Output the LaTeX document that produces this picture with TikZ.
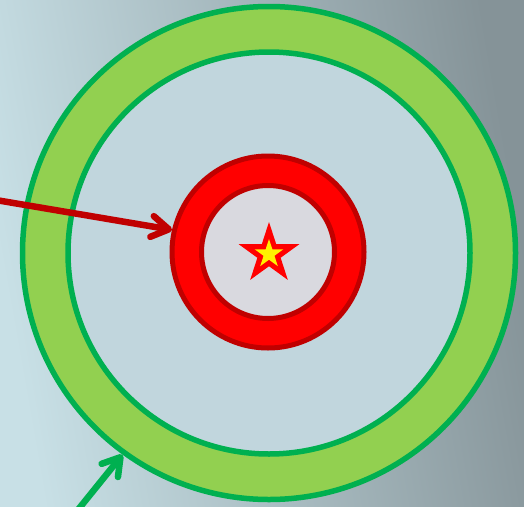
\documentclass[tikz,border=0pt]{standalone}
\usetikzlibrary{arrows.meta,shapes.geometric}
\definecolor{bgleft}{HTML}{C8E0E6}
\definecolor{bgright}{HTML}{859398}
\definecolor{ringgreen}{HTML}{92D050}
\definecolor{linegreen}{HTML}{00B050}
\definecolor{coreblue}{HTML}{C1D6DD}
\definecolor{darkred}{HTML}{C00000}
\definecolor{coregray}{HTML}{D9D9DF}
\begin{document}
\begin{tikzpicture}[
    x=1pt, y=-1pt,
    inner sep=0pt, outer sep=0pt,
    disc/.style={circle, minimum size=#1},
    greenline/.style={draw=linegreen, line width=5.5pt},
    redline/.style={draw=darkred, line width=5pt},
    starshape/.style={star, star points=5, star point ratio=2.618, minimum size=#1},
    pointer/.style={line width=6.5pt, line cap=round,
      -{Straight Barb[length=17pt, width=21pt, round]}}
  ]
  \shade[left color=bgleft, right color=bgright, shading angle=100]
    (0,0) rectangle (524,506);
  \useasboundingbox (0,0) rectangle (524,506);
  \clip (0,0) rectangle (524,506);
  \node (outer) [disc=493pt, greenline, fill=ringgreen, outer sep=2.75pt] at (269,253) {};
  \node (inner) [disc=402pt, greenline, fill=coreblue] at (269,253) {};
  \node (ring) [disc=192pt, redline, fill=red, outer sep=2.5pt] at (268,252) {};
  \node (core) [disc=133pt, redline, fill=coregray] at (268,252) {};
  \node (star) [starshape=64pt, fill=red] at (269,254) {};
  \node (spot) [starshape=30pt, fill=yellow] at (269,254) {};
  \coordinate (redtail) at (-6,199.7);
  \coordinate (greentail) at (77,511);
  \draw[pointer, darkred] (redtail) -- (ring.167);
  \draw[pointer, linegreen] (greentail) -- (outer.234);
\end{tikzpicture}
\end{document}
